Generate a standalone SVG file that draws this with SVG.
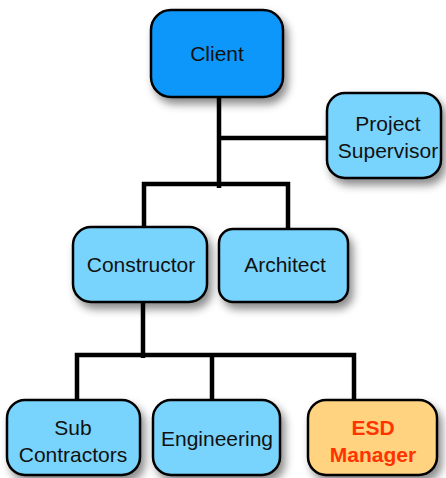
<svg xmlns="http://www.w3.org/2000/svg" width="446" height="478" viewBox="0 0 446 478">
<defs>
<filter id="sh" x="-20%" y="-20%" width="150%" height="160%">
<feDropShadow dx="4" dy="6" stdDeviation="4" flood-color="#000" flood-opacity="0.45"/>
</filter>
<style>
.box{stroke:#000;stroke-width:2.5;filter:url(#sh)}
.dark{fill:#0A97FB}
.light{fill:#79D4FD}
.esd{fill:#FFD37F}
.t{font-family:"Liberation Sans",Arial,sans-serif;font-size:21px;fill:#111;text-anchor:middle}
.r{fill:#FF3300;font-weight:bold}
.c{fill:none;stroke:#000;stroke-width:4.5}
</style>
</defs>
<g id="connectors">
<path class="c" d="M219 92V188M219 138H328"/>
<path class="c" d="M144 230V184H288V230"/>
<path class="c" d="M143 300V358"/>
<path class="c" d="M77 402V355H354V402M212 355V402"/>
</g>
<g id="client">
<rect class="box dark" x="151" y="10" width="132" height="87" rx="20"/>
<text class="t" x="217" y="61">Client</text>
</g>
<g id="project-supervisor">
<rect class="box light" x="327" y="93" width="114" height="85" rx="18"/>
<text class="t" x="388" y="131">Project</text>
<text class="t" x="388" y="158">Supervisor</text>
</g>
<g id="constructor">
<rect class="box light" x="73" y="227" width="134" height="75" rx="18"/>
<text class="t" x="141" y="272">Constructor</text>
</g>
<g id="architect">
<rect class="box light" x="219" y="229" width="129" height="73" rx="14"/>
<text class="t" x="285" y="272">Architect</text>
</g>
<g id="sub-contractors">
<rect class="box light" x="7" y="400" width="133" height="75" rx="18"/>
<text class="t" x="73" y="435">Sub</text>
<text class="t" x="73" y="462">Contractors</text>
</g>
<g id="engineering">
<rect class="box light" x="153" y="400" width="127" height="75" rx="18"/>
<text class="t" x="217" y="446">Engineering</text>
</g>
<g id="esd-manager">
<rect class="box esd" x="308" y="400" width="129" height="75" rx="18"/>
<text class="t r" x="373" y="435">ESD</text>
<text class="t r" x="373" y="462">Manager</text>
</g>
</svg>
